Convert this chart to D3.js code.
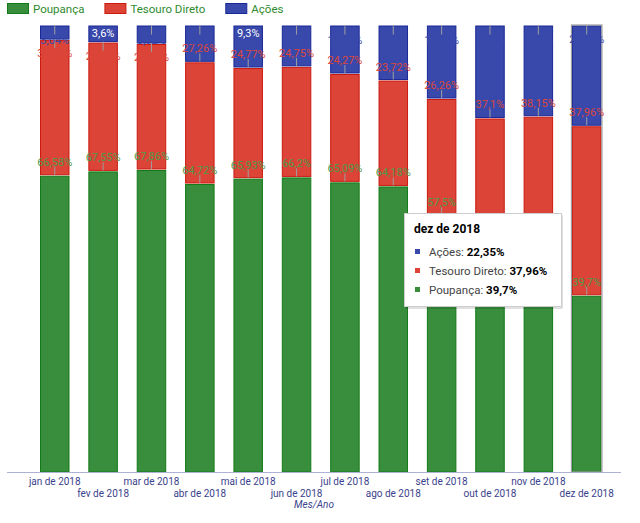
<!DOCTYPE html>
<html><head><meta charset="utf-8">
<script src="https://cdn.jsdelivr.net/npm/d3@7"></script>
<style>
html,body{margin:0;padding:0;background:#fff;}
svg{display:block;font-family:Roboto, "Noto Sans", sans-serif;}
</style></head>
<body><svg id="chart" width="640" height="523"></svg>
<script>
const months = ["jan de 2018","fev de 2018","mar de 2018","abr de 2018","mai de 2018","jun de 2018","jul de 2018","ago de 2018","set de 2018","out de 2018","nov de 2018","dez de 2018"];
const seriesNames = ["Poupança","Tesouro Direto","Ações"];
const poupanca = [66.58,67.55,67.86,64.72,65.93,66.2,65.09,64.18,57.5,42.3,41.65,39.7];
const tesouro  = [30.38,28.85,28.22,27.26,24.77,24.75,24.27,23.72,26.26,37.1,38.15,37.96];
const acoes    = [3.04,3.6,3.92,8.02,9.3,9.05,10.64,12.1,16.24,20.6,20.2,22.35];
const fills   = ["#388e3c","#db4437","#3949ab"];
const strokes = ["#127a18","#cc1a10","#1a2796"];
const labelColors = ["#4f9a4a","#dc463a","#3949ab"];
const axisTitle = "Mes/Ano";
const hovered = "dez de 2018";

const table = months.map((m,i)=>({month:m,"Poupança":poupanca[i],"Tesouro Direto":tesouro[i],"Ações":acoes[i]}));
const fmt = v => d3.format(".2f")(v).replace(/\.?0+$/,"").replace(".",",") + "%";

const svg = d3.select("#chart");
const x = d3.scaleBand().domain(months).range([30.57,610.9]).paddingInner(0.39).paddingOuter(0.195);
const y = d3.scaleLinear().domain([0,100]).range([472,25.5]);
const stack = d3.stack().keys(seriesNames)(table);
const bw = x.bandwidth();

// bars
const gBars = svg.append("g");
stack.forEach((s,si)=>{
  gBars.selectAll(null).data(s).enter().append("rect")
    .attr("x", d=>x(d.data.month)+0.5)
    .attr("y", d=>y(d[1]) + (d[1] < 99.99 ? 1.5 : 0.5))
    .attr("width", bw-1)
    .attr("height", d=>Math.max(0, y(d[0]) - y(d[1]) - (d[1] < 99.99 ? 1.5 : 0.5)))
    .attr("fill", fills[si]).attr("stroke", strokes[si]).attr("stroke-width",1);
});
// hovered outline
svg.append("rect").attr("x", x(hovered)-0.5).attr("y", y(100)-0.5).attr("width", bw+1).attr("height", y(0)-y(100)+0.5)
  .attr("fill","none").attr("stroke","#9e9e9e").attr("stroke-width",1.2);

// axis line
svg.append("line").attr("x1",7).attr("x2",621).attr("y1",y(0)+0.5).attr("y2",y(0)+0.5).attr("stroke","#aeb3d6").attr("stroke-width",1.2);

// annotations
const gAnn = svg.append("g").attr("font-size",11);
stack.forEach((s,si)=>{
  s.forEach(d=>{
    const cx = x(d.data.month)+bw/2;
    const top = y(d[1]);
    const txt = fmt(d[1]-d[0]);
    const t = gAnn.append("text").attr("x",cx).attr("text-anchor","middle").text(txt);
    const w = t.node().getComputedTextLength();
    const segH = y(d[0]) - top;
    if (w <= bw - 4 && segH >= 12) {
      t.attr("y", top+11).attr("fill","#ffffff");
    } else if (top - y(100) < 25) {
      gAnn.append("line").attr("x1",cx).attr("x2",cx).attr("y1",top).attr("y2",top+9).attr("stroke","#9e9e9e");
      t.attr("y", top+18).attr("fill", labelColors[si]);
      t.raise();
    } else {
      gAnn.append("line").attr("x1",cx).attr("x2",cx).attr("y1",top).attr("y2",top-8).attr("stroke","#9e9e9e");
      t.attr("y", top-9).attr("fill", labelColors[si]);
      t.raise();
    }
  });
});

// x tick labels
const gx = svg.append("g").attr("font-size",10).attr("fill","#3b3f8c");
months.forEach((m,i)=>{
  gx.append("text").attr("x", x(m)+bw/2).attr("y", i%2===0 ? 485 : 496.5).attr("text-anchor","middle").text(m);
});
svg.append("text").attr("x",314).attr("y",508).attr("text-anchor","middle").attr("font-size",10)
  .attr("font-style","italic").attr("fill","#3b3f8c").text(axisTitle);

// legend
const gLeg = svg.append("g").attr("font-size",11.5);
let lx = 7;
seriesNames.forEach((n,i)=>{
  gLeg.append("rect").attr("x",lx+0.5).attr("y",3.5).attr("width",21).attr("height",10)
    .attr("fill",fills[i]).attr("stroke",strokes[i]);
  const t = gLeg.append("text").attr("x",lx+26).attr("y",12.5).attr("fill","#2e8b2e").text(n);
  lx = lx + 26 + t.node().getComputedTextLength() + 20;
});

// tooltip
const hi = months.indexOf(hovered);
const tip = svg.append("g").attr("transform","translate(404,213)");
tip.append("rect").attr("x",1).attr("y",2).attr("width",158).attr("height",94).attr("rx",1).attr("fill","#000").attr("opacity",0.12);
tip.append("rect").attr("x",0.5).attr("y",0.5).attr("width",157).attr("height",93).attr("fill","#fff").attr("stroke","#cccccc");
tip.append("text").attr("x",10).attr("y",20).attr("font-size",12).attr("font-weight","bold").attr("fill","#000").text(hovered);
const tipRows = [[2,acoes[hi]],[1,tesouro[hi]],[0,poupanca[hi]]];
tipRows.forEach((r,j)=>{
  const cy = 39 + j*19;
  tip.append("rect").attr("x",11).attr("y",cy-3).attr("width",5).attr("height",5).attr("fill",fills[r[0]]);
  const t = tip.append("text").attr("x",25).attr("y",cy+4).attr("font-size",11.5).attr("fill","#444");
  t.append("tspan").text(seriesNames[r[0]]+": ");
  t.append("tspan").attr("font-weight","bold").attr("fill","#000").text(fmt(r[1]));
});
</script></body></html>
